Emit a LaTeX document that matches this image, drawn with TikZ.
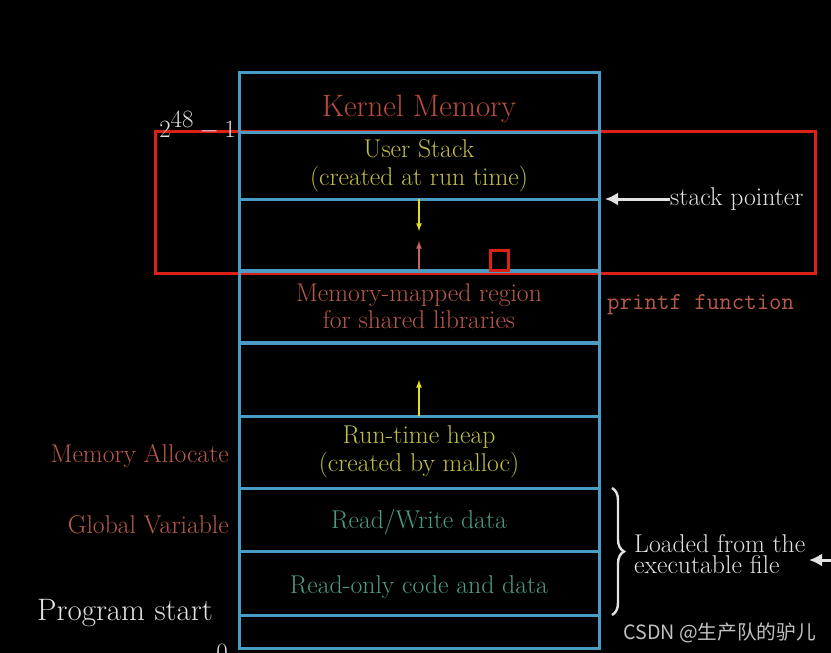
\documentclass[tikz,border=0pt]{standalone}
\usepackage{xcolor}
\usepackage{fontspec}
\newfontfamily\cjkfont{Noto Sans CJK SC}
\usepackage{tikz}
\usetikzlibrary{arrows, arrows.meta, positioning, decorations.pathreplacing}

\definecolor{cellblue}{HTML}{4A9CC4}
\definecolor{kernred}{HTML}{B84A3E}
\definecolor{labred}{HTML}{B85A4A}
\definecolor{stackyel}{HTML}{C4BD48}
\definecolor{arrowyel}{HTML}{E6DE22}
\definecolor{datateal}{HTML}{4F9A86}
\definecolor{softwhite}{HTML}{E2E2E2}
\definecolor{markred}{HTML}{DC2218}

\begin{document}
\begin{tikzpicture}[x=1pt, y=-1pt,
    cell/.style={draw=cellblue, line width=3pt, minimum width=360pt,
        inner sep=0pt, outer sep=0pt, align=center,
        font=\fontsize{25.7}{28.5}\selectfont},
    side/.style={font=\fontsize{25.7}{28}\selectfont, inner sep=0pt},
    big/.style={font=\fontsize{31}{34}\selectfont, inner sep=0pt, text=softwhite},
    growarrow/.style={->, >=latex, line width=1.6pt},
    ptr/.style={-{Latex[length=13pt, width=13pt]}, line width=3pt, softwhite}]

    % Background
    \fill[black] (0,0) rectangle (831,653);
    \useasboundingbox (0,0) rectangle (831,653);

    % Marks
    \draw[markred, line width=3pt] (155,131) rectangle (815,273);

    % Cells
    \node[cell, minimum height=60pt, text=kernred,
          font=\fontsize{31}{34}\selectfont] (kernel) at (419,102)
          {\raisebox{-7pt}[\height][\depth]{Kernel Memory}};
    \node[cell, minimum height=67pt, text=stackyel] (ustack) at (419,165.5)
          {User Stack\\(created at run time)};
    \node[cell, minimum height=72pt] (gapa) at (419,235) {};
    \node[cell, minimum height=72pt, text=labred,
          font=\fontsize{25.7}{27}\selectfont] (mmap) at (419,306)
          {Memory-mapped region\\for shared libraries};
    \node[cell, minimum height=73pt] (gapb) at (419,379.5) {};
    \node[cell, minimum height=72pt, text=stackyel] (heap) at (419,452)
          {Run-time heap\\(created by malloc)};
    \node[cell, minimum height=63pt, text=datateal] (rw) at (419,519.5)
          {\raisebox{-3pt}[\height][\depth]{Read/Write data}};
    \node[cell, minimum height=64pt, text=datateal] (ro) at (419,583)
          {\raisebox{-4pt}[\height][\depth]{Read-only code and data}};
    \node[cell, minimum height=33pt] (bottom) at (419,631.5) {};

    % Growth arrows
    \coordinate (stacktip) at (419,231);
    \coordinate (mmaptip) at (419,241);
    \coordinate (heaptip) at (419,380);
    \draw[growarrow, arrowyel] (gapa.north) -- (stacktip);
    \draw[growarrow, kernred!85!white] (mmap.north) -- (mmaptip);
    \draw[growarrow, arrowyel] (heap.north) -- (heaptip);

    % Small mark
    \draw[markred, line width=3pt] (490,250) rectangle (508,270);

    % Left labels
    \node[big, anchor=base east, font=\fontsize{35}{38}\selectfont]
          (top) at (236,137) {$2^{48}-1$};
    \node[side, text=labred, anchor=east] (alloc) at (229,456) {Memory Allocate};
    \node[side, text=labred, anchor=east] (global) at (229,525) {Global Variable};
    \node[big, anchor=base east] (start) at (213,620) {Program start};
    \node[big, anchor=base] (zero) at (222,660) {$0$};

    % Right labels
    \node[side, text=softwhite, anchor=west] (sp) at (670,199) {stack pointer};
    \draw[ptr] (sp.west) -- ([xshift=6pt]gapa.north east);
    \node[side, text=labred, anchor=west, font=\ttfamily\fontsize{24.2}{28}\selectfont]
          (printf) at (607,305) {printf function};
    \draw[softwhite, line width=2.4pt,
          decorate, decoration={brace, amplitude=12pt}]
          ([xshift=13pt]rw.north east) -- ([xshift=13pt]ro.south east);
    \node[side, text=softwhite, anchor=west, align=left,
          font=\fontsize{25.7}{21.5}\selectfont] (loaded) at (634,554)
          {Loaded from the\\executable file};
    \coordinate (edge) at (850,560);
    \coordinate (exetip) at (809,560);
    \draw[ptr] (edge) -- (exetip);

    % Watermark
    \node[anchor=west, text=softwhite!85!black, inner sep=0pt,
          font=\cjkfont\fontsize{19.7}{22}\selectfont] (mark) at (623,633)
          {CSDN @生产队的驴儿};

\end{tikzpicture}
\end{document}
